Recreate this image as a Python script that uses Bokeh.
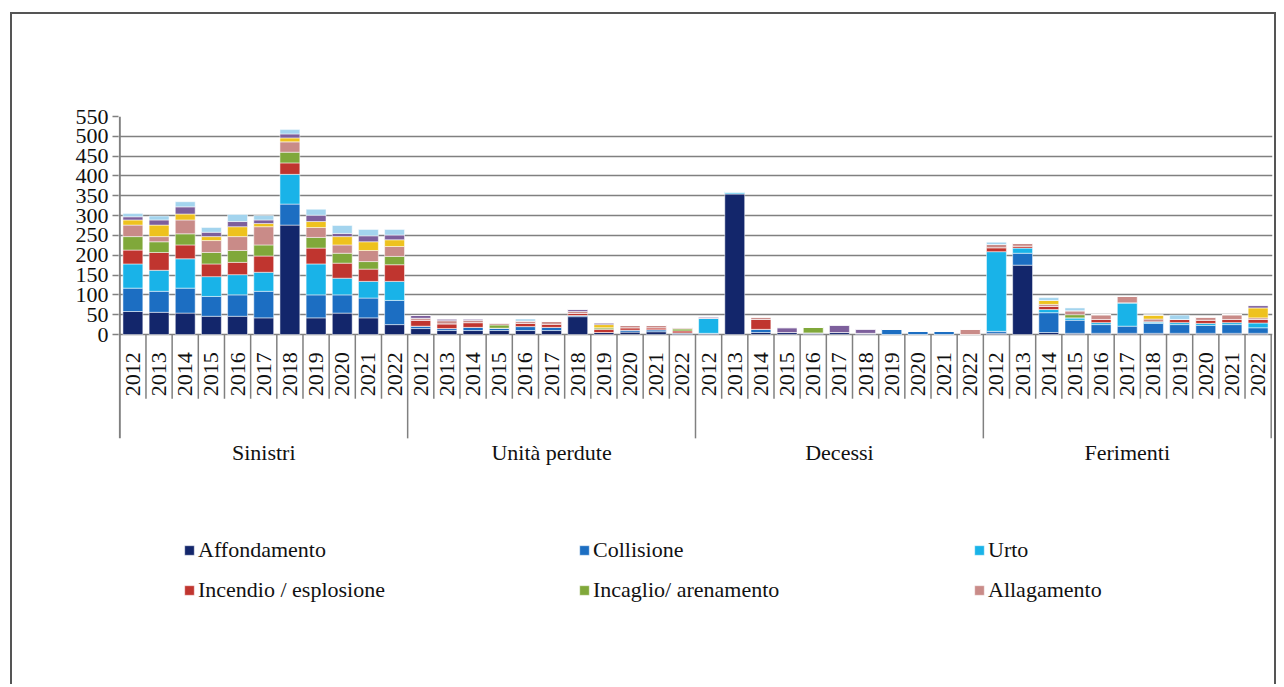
import math
from bokeh.plotting import figure
from bokeh.models import ColumnDataSource, FixedTicker, Legend, LegendItem
from bokeh.core.properties import value
from bokeh.embed import file_html
from bokeh.resources import INLINE

groups = ["Sinistri", "Unità perdute", "Decessi", "Ferimenti"]
years = ["2012", "2013", "2014", "2015", "2016", "2017", "2018", "2019", "2020", "2021", "2022"]

# series values: Sinistri (11) | Unità perdute (11) | Decessi (11) | Ferimenti (11)
affondamento = [58, 56, 54, 46, 46, 42, 276, 42, 54, 42, 25,
                15, 10, 10, 10, 10, 10, 45, 5, 6, 7, 4,
                3, 355, 5, 5, 4, 5, 3, 0, 0, 0, 0,
                3, 175, 5, 3, 3, 3, 3, 3, 3, 3, 3]
collisione = [59, 53, 63, 50, 54, 67, 53, 58, 46, 50, 61,
              6, 5, 8, 6, 10, 8, 3, 0, 5, 5, 0,
              0, 0, 8, 0, 0, 0, 0, 13, 8, 8, 0,
              5, 30, 50, 33, 22, 18, 25, 22, 20, 22, 14]
urto = [61, 53, 74, 50, 51, 48, 75, 78, 42, 42, 48,
        0, 0, 0, 0, 0, 0, 0, 0, 0, 0, 0,
        38, 5, 0, 0, 0, 0, 0, 0, 0, 0, 0,
        201, 13, 8, 6, 5, 59, 4, 5, 5, 5, 12]
incendio = [35, 45, 35, 32, 31, 41, 29, 40, 38, 31, 42,
            15, 12, 12, 0, 8, 8, 5, 8, 6, 5, 5,
            0, 0, 25, 0, 0, 0, 0, 0, 0, 0, 0,
            10, 5, 8, 0, 8, 0, 0, 8, 8, 8, 9]
incaglio = [34, 27, 28, 29, 30, 28, 27, 27, 25, 19, 21,
            0, 0, 0, 8, 0, 0, 0, 4, 0, 0, 5,
            0, 0, 0, 0, 14, 0, 0, 0, 0, 0, 0,
            0, 0, 0, 8, 0, 0, 0, 0, 0, 0, 0]
allagamento = [29, 13, 35, 30, 35, 46, 26, 25, 21, 28, 25,
               5, 8, 6, 5, 6, 7, 5, 0, 6, 6, 3,
               0, 0, 6, 0, 0, 0, 0, 0, 0, 0, 13,
               8, 7, 5, 10, 12, 16, 7, 0, 8, 12, 4]
altro_giallo = [13, 29, 15, 10, 25, 8, 10, 15, 21, 22, 17,
                0, 0, 0, 0, 0, 0, 0, 8, 0, 0, 0,
                0, 0, 0, 0, 0, 0, 0, 0, 0, 0, 0,
                0, 0, 10, 0, 0, 0, 10, 0, 0, 0, 25]
altro_viola = [8, 13, 18, 11, 13, 9, 10, 16, 8, 15, 12,
               7, 4, 3, 0, 0, 0, 5, 4, 0, 0, 0,
               3, 0, 0, 12, 0, 18, 10, 0, 0, 0, 0,
               0, 0, 0, 0, 0, 0, 0, 0, 0, 0, 6]
altro_azzurro = [8, 10, 13, 12, 18, 11, 11, 15, 20, 16, 14,
                 0, 0, 0, 0, 5, 0, 0, 0, 0, 0, 0,
                 0, 0, 0, 0, 0, 0, 0, 0, 0, 0, 0,
                 6, 0, 7, 7, 0, 0, 0, 11, 0, 0, 0]

y_ticks = [0, 50, 100, 150, 200, 250, 300, 350, 400, 450, 500, 550]

series = ["affondamento", "collisione", "urto", "incendio", "incaglio",
          "allagamento", "altro_giallo", "altro_viola", "altro_azzurro"]
colors = ["#13266b", "#1c6ec2", "#19b3e8", "#c0352f", "#80a83a",
          "#c98b88", "#eec21e", "#7d5f9c", "#a3d4ee"]
legend_labels = ["Affondamento", "Collisione", "Urto",
                 "Incendio / esplosione", "Incaglio/ arenamento", "Allagamento"]

n_years = len(years)
n = len(groups) * n_years
xs = list(range(n))
data = dict(x=xs)
for name, vals in zip(series, [affondamento, collisione, urto, incendio, incaglio,
                               allagamento, altro_giallo, altro_viola, altro_azzurro]):
    data[name] = vals
src = ColumnDataSource(data)

FONT = "'Liberation Serif', 'Times New Roman', serif"
GRID = "#808080"

p = figure(frame_width=1154, frame_height=524,
           x_range=(-0.55, n - 0.45), y_range=(-772, 550),
           x_axis_type=None, output_backend="svg", toolbar_location=None,
           min_border_left=106, min_border_top=102, min_border_right=2,
           min_border_bottom=44)
p.outline_line_color = None
p.xgrid.visible = False
p.ygrid.ticker = FixedTicker(ticks=y_ticks)
p.ygrid.grid_line_color = GRID
p.ygrid.grid_line_width = 1.5

ax = p.yaxis[0]
ax.ticker = FixedTicker(ticks=y_ticks)
ax.axis_line_color = None
ax.major_tick_in = 0
ax.major_tick_out = 6
ax.major_tick_line_color = GRID
ax.major_tick_line_width = 1.5
ax.minor_tick_line_color = None
ax.major_label_text_font = FONT
ax.major_label_text_font_size = "22px"
ax.major_label_text_color = "#111111"
ax.major_label_standoff = 4

renderers = p.vbar_stack(series, x="x", width=0.76, source=src, color=colors,
                         line_color="white", line_width=0.5)

# table lines under the bars
group_edges = [g * n_years - 0.5 for g in range(len(groups) + 1)]
cell_edges = [i - 0.5 for i in range(1, n) if i % n_years != 0]
p.segment(x0=cell_edges, y0=[0] * len(cell_edges), x1=cell_edges,
          y1=[-162] * len(cell_edges), line_color=GRID, line_width=1.5)
inner = group_edges[1:]
p.segment(x0=inner, y0=[0] * len(inner), x1=inner, y1=[-262] * len(inner),
          line_color=GRID, line_width=1.5)
p.segment(x0=[group_edges[0]], y0=[-262], x1=[group_edges[0]], y1=[y_ticks[-1]],
          line_color=GRID, line_width=2)

# year labels
p.text(x=xs, y=[-100] * n, text=years * len(groups), angle=math.pi / 2,
       text_align="center", text_baseline="middle",
       text_font=value(FONT), text_font_size="22px", text_color="#111111")
# group labels
gx = [g * n_years + (n_years - 1) / 2 for g in range(len(groups))]
p.text(x=gx, y=[-298] * len(groups), text=groups,
       text_align="center", text_baseline="middle",
       text_font=value(FONT), text_font_size="22px", text_color="#111111")

def make_legend(idx, y):
    items = [LegendItem(label=legend_labels[i], renderers=[renderers[i]]) for i in idx]
    lg = Legend(items=items, orientation="horizontal", location=(65, y),
                label_text_font=FONT, label_text_font_size="22px",
                label_text_color="#111111", glyph_width=12, glyph_height=12,
                label_standoff=3, label_width=380, spacing=0,
                border_line_color=None, background_fill_alpha=0,
                padding=10, margin=0)
    p.add_layout(lg, "center")

make_legend([0, 1, 2], 77)
make_legend([3, 4, 5], 37)

p.styles = {"border": "2px solid #555555", "border-bottom": "none",
            "box-sizing": "border-box", "margin": "12px 0 0 10px"}

open("out.html", "w").write(file_html(p, INLINE))
